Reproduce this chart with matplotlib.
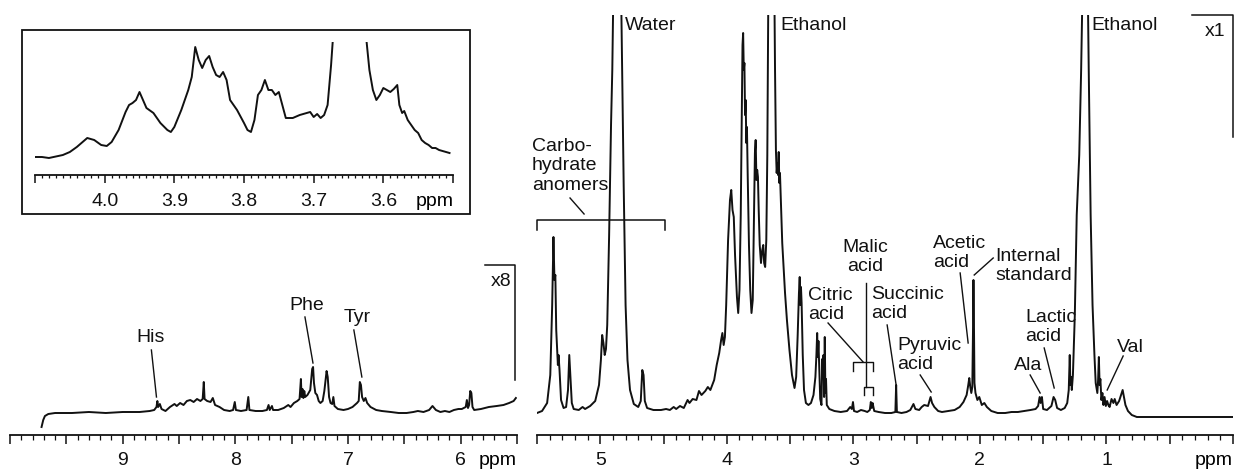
import matplotlib
matplotlib.use("Agg")
import matplotlib.pyplot as plt
from matplotlib.patches import Rectangle
from matplotlib.ticker import MultipleLocator, FuncFormatter

plt.rcParams['font.family'] = ['Liberation Sans', 'DejaVu Sans']
plt.rcParams['font.size'] = 14

INK = '#111111'

# (ppm, intensity); intensity ~ pixels above baseline
left_trace = [
    (9.72, -12), (9.705, -5), (9.69, -1), (9.66, 1), (9.60, 2), (9.45, 2), (9.30, 3),
    (9.15, 2), (9.00, 3), (8.85, 3), (8.76, 4), (8.72, 5), (8.70, 8), (8.692, 14),
    (8.685, 8), (8.67, 11), (8.655, 6), (8.62, 4), (8.58, 8), (8.54, 11), (8.52, 9),
    (8.49, 12), (8.46, 10), (8.43, 14), (8.40, 15), (8.37, 13), (8.34, 16), (8.31, 14),
    (8.29, 16), (8.28, 33), (8.273, 16), (8.25, 14), (8.22, 13), (8.20, 17), (8.18, 10),
    (8.14, 8), (8.10, 5), (8.05, 4), (8.02, 5), (8.005, 13), (7.995, 5), (7.95, 4),
    (7.90, 5), (7.885, 18), (7.875, 5), (7.82, 4), (7.76, 4), (7.72, 5), (7.705, 10),
    (7.695, 5), (7.675, 9), (7.665, 5), (7.62, 5), (7.57, 7), (7.53, 10), (7.51, 8),
    (7.48, 12), (7.45, 14), (7.43, 16), (7.418, 36), (7.412, 18), (7.404, 26),
    (7.396, 17), (7.388, 24), (7.38, 18), (7.36, 20), (7.335, 25), (7.318, 46),
    (7.31, 48), (7.302, 32), (7.29, 22), (7.275, 20), (7.26, 14), (7.245, 12),
    (7.225, 14), (7.21, 24), (7.19, 44), (7.18, 38), (7.168, 18), (7.155, 12),
    (7.14, 11), (7.13, 18), (7.12, 9), (7.09, 6), (7.04, 5), (7.00, 6), (6.96, 8),
    (6.92, 12), (6.905, 14), (6.895, 33), (6.885, 30), (6.875, 18), (6.86, 14),
    (6.845, 17), (6.83, 12), (6.80, 8), (6.75, 5), (6.70, 4), (6.62, 3), (6.55, 2),
    (6.48, 2), (6.42, 3), (6.38, 4), (6.33, 3), (6.28, 5), (6.25, 9), (6.22, 5),
    (6.18, 3), (6.14, 4), (6.10, 3), (6.06, 5), (6.02, 6), (5.99, 6), (5.955, 8),
    (5.945, 15), (5.935, 7), (5.925, 10), (5.915, 24), (5.905, 22), (5.895, 8),
    (5.88, 5), (5.82, 6), (5.75, 8), (5.68, 9), (5.62, 10), (5.57, 12), (5.53, 14),
    (5.51, 17),
]

right_trace = [
    (5.50, 2), (5.46, 4), (5.42, 12), (5.395, 40), (5.38, 110), (5.37, 178),
    (5.362, 135), (5.355, 140), (5.348, 85), (5.34, 62), (5.335, 50), (5.33, 60),
    (5.322, 45), (5.31, 15), (5.29, 7), (5.27, 8), (5.255, 25), (5.245, 60),
    (5.237, 40), (5.225, 12), (5.21, 6), (5.17, 5), (5.14, 8), (5.12, 6), (5.08, 9),
    (5.04, 14), (5.01, 30), (4.995, 55), (4.985, 80), (4.975, 72), (4.965, 60),
    (4.955, 66), (4.945, 90), (4.93, 180), (4.915, 290), (4.905, 345), (4.897, 420),
    (4.865, 2000), (4.835, 420), (4.827, 345), (4.815, 230), (4.80, 110), (4.785, 55),
    (4.765, 25), (4.735, 11), (4.70, 8), (4.68, 14), (4.668, 45), (4.658, 40),
    (4.648, 14), (4.63, 7), (4.58, 5), (4.52, 5), (4.48, 6), (4.45, 5), (4.42, 8),
    (4.40, 6), (4.37, 9), (4.34, 7), (4.31, 15), (4.295, 12), (4.27, 16), (4.24, 15),
    (4.22, 24), (4.20, 20), (4.17, 24), (4.15, 28), (4.13, 25), (4.10, 35), (4.08, 50),
    (4.06, 62), (4.045, 75), (4.035, 82), (4.025, 70), (4.015, 78), (4.005, 110),
    (3.99, 175), (3.975, 215), (3.965, 225), (3.955, 205), (3.945, 198), (3.935, 160),
    (3.92, 118), (3.91, 102), (3.90, 125), (3.89, 200), (3.882, 300), (3.876, 370),
    (3.871, 382), (3.866, 345), (3.861, 352), (3.856, 300), (3.851, 315),
    (3.846, 272), (3.841, 288), (3.835, 240), (3.825, 170), (3.815, 125),
    (3.805, 102), (3.795, 115), (3.785, 200), (3.778, 262), (3.772, 275),
    (3.766, 235), (3.76, 245), (3.754, 238), (3.748, 205), (3.74, 170), (3.73, 152),
    (3.72, 165), (3.712, 170), (3.705, 152), (3.697, 148), (3.688, 175), (3.68, 260),
    (3.672, 420), (3.655, 2000), (3.635, 2000), (3.624, 420), (3.619, 345),
    (3.612, 265), (3.606, 242), (3.60, 252), (3.595, 240), (3.59, 263), (3.585, 232),
    (3.58, 242), (3.572, 212), (3.562, 172), (3.552, 150), (3.54, 122), (3.525, 95),
    (3.505, 65), (3.485, 40), (3.465, 27), (3.452, 38), (3.44, 80), (3.43, 122),
    (3.424, 138), (3.419, 110), (3.414, 128), (3.409, 112), (3.40, 60), (3.39, 25),
    (3.375, 12), (3.355, 10), (3.335, 12), (3.315, 20), (3.30, 38), (3.292, 60),
    (3.286, 82), (3.281, 58), (3.276, 74), (3.27, 48), (3.262, 16), (3.252, 10),
    (3.246, 56), (3.241, 38), (3.236, 60), (3.231, 18), (3.226, 78), (3.221, 22),
    (3.216, 36), (3.21, 10), (3.19, 6), (3.15, 4), (3.10, 3), (3.05, 4), (3.025, 8),
    (3.012, 6), (3.003, 13), (2.995, 4), (2.97, 3), (2.94, 5), (2.91, 4), (2.89, 3),
    (2.87, 5), (2.862, 13), (2.855, 7), (2.848, 12), (2.835, 4), (2.80, 3), (2.75, 2),
    (2.70, 2), (2.668, 3), (2.662, 30), (2.656, 3), (2.62, 2), (2.58, 3), (2.55, 5),
    (2.525, 11), (2.51, 6), (2.48, 5), (2.46, 8), (2.44, 10), (2.41, 9), (2.39, 18),
    (2.378, 12), (2.36, 8), (2.33, 4), (2.30, 3), (2.25, 4), (2.20, 5), (2.16, 8),
    (2.13, 13), (2.105, 20), (2.092, 30), (2.084, 37), (2.076, 28), (2.068, 22),
    (2.06, 28), (2.055, 80), (2.051, 135), (2.047, 90), (2.043, 32), (2.035, 22),
    (2.02, 15), (2.005, 18), (1.985, 10), (1.965, 12), (1.945, 8), (1.91, 4),
    (1.86, 2), (1.80, 2), (1.75, 3), (1.70, 3), (1.65, 4), (1.60, 5), (1.56, 6),
    (1.54, 9), (1.528, 18), (1.52, 12), (1.51, 18), (1.50, 6), (1.47, 5), (1.435, 9),
    (1.418, 18), (1.405, 15), (1.39, 7), (1.36, 5), (1.33, 7), (1.31, 12), (1.298, 25),
    (1.29, 60), (1.285, 30), (1.28, 38), (1.274, 25), (1.265, 40), (1.25, 100),
    (1.235, 200), (1.215, 260), (1.20, 345), (1.19, 420), (1.168, 2000), (1.147, 420),
    (1.14, 345), (1.125, 200), (1.11, 110), (1.095, 60), (1.085, 32), (1.072, 22),
    (1.066, 35), (1.06, 58), (1.054, 30), (1.048, 36), (1.04, 15), (1.032, 22),
    (1.024, 10), (1.015, 18), (1.005, 9), (0.995, 14), (0.985, 10), (0.975, 8),
    (0.96, 16), (0.945, 12), (0.935, 16), (0.92, 10), (0.90, 14), (0.885, 20),
    (0.872, 25), (0.862, 18), (0.85, 10), (0.83, 4), (0.80, 0), (0.76, -2), (0.00, -2),
]

inset_trace = [
    (4.10, 18), (4.09, 18), (4.08, 17), (4.06, 20), (4.05, 23), (4.04, 28), (4.03, 34),
    (4.025, 37), (4.015, 35), (4.005, 30), (3.997, 29), (3.99, 33), (3.98, 45),
    (3.97, 63), (3.965, 70), (3.96, 72), (3.955, 75), (3.95, 83), (3.945, 75),
    (3.94, 67), (3.93, 62), (3.92, 52), (3.91, 45), (3.905, 43), (3.90, 48),
    (3.89, 65), (3.88, 85), (3.875, 98), (3.87, 128), (3.865, 115), (3.86, 107),
    (3.855, 115), (3.85, 119), (3.845, 108), (3.84, 100), (3.835, 98), (3.83, 103),
    (3.825, 95), (3.82, 75), (3.81, 65), (3.80, 52), (3.795, 45), (3.79, 43),
    (3.785, 55), (3.78, 80), (3.775, 85), (3.77, 95), (3.765, 85), (3.76, 85),
    (3.755, 80), (3.75, 83), (3.745, 70), (3.74, 57), (3.73, 57), (3.72, 60),
    (3.71, 62), (3.705, 63), (3.70, 58), (3.695, 61), (3.69, 57), (3.685, 60),
    (3.68, 70), (3.675, 110), (3.672, 140), (3.66, 400), (3.64, 400), (3.625, 140),
    (3.62, 105), (3.615, 85), (3.61, 75), (3.605, 80), (3.60, 87), (3.595, 85),
    (3.59, 83), (3.585, 86), (3.58, 90), (3.577, 70), (3.573, 62), (3.57, 64),
    (3.565, 55), (3.56, 50), (3.555, 45), (3.55, 42), (3.545, 35), (3.54, 32),
    (3.535, 30), (3.53, 27), (3.525, 27), (3.52, 25), (3.51, 23), (3.505, 22),
]

# label text, anchor (ppm, intensity), leader line endpoints
left_labels = [
    ("His", (8.755, 77), [(8.745, 65), (8.70, 18)]),
    ("Phe", (7.367, 110), [(7.382, 98), (7.311, 52)]),
    ("Tyr", (6.918, 98), [(6.948, 85), (6.877, 38)]),
]

right_labels = [
    ("Citric\nacid", (3.358, 110), [(3.20, 92), (2.923, 53)]),
    ("Malic\nacid", (2.907, 158), [(2.899, 132), (2.899, 28)]),
    ("Succinic\nacid", (2.86, 111), [(2.733, 90), (2.662, 30)]),
    ("Pyruvic\nacid", (2.654, 60), [(2.472, 40), (2.385, 23)]),
    ("Acetic\nacid", (2.37, 162), [(2.156, 142), (2.093, 72)]),
    ("Internal\nstandard", (1.879, 149), [(1.895, 157), (2.045, 140)]),
    ("Lactic\nacid", (1.642, 88), [(1.492, 67), (1.413, 27)]),
    ("Ala", (1.73, 49), [(1.603, 40), (1.524, 22)]),
    ("Val", (0.915, 68), [(0.868, 59), (0.994, 25)]),
]


def px_axes(fig, x0, x1, ytop, ybot):
    W, H = 1236, 470
    return fig.add_axes([x0 / W, (H - ybot) / H, (x1 - x0) / W, (ybot - ytop) / H])


def style_axis(ax, major, minor, fmt):
    for s in ('top', 'left', 'right'):
        ax.spines[s].set_visible(False)
    ax.spines['bottom'].set_linewidth(1.3)
    ax.spines['bottom'].set_color(INK)
    ax.set_yticks([])
    ax.xaxis.set_major_locator(MultipleLocator(major))
    ax.xaxis.set_minor_locator(MultipleLocator(minor))
    ax.xaxis.set_major_formatter(FuncFormatter(fmt))
    ax.tick_params(axis='x', which='major', direction='out', length=6.5, width=1.1,
                   pad=6, colors=INK, labelsize=14)
    ax.tick_params(axis='x', which='minor', direction='out', length=3.5, width=0.9,
                   colors=INK)
    ax.patch.set_visible(False)


def int_label(v, pos):
    r = round(v)
    if abs(v - r) < 1e-6 and 1 <= r <= 9:
        return str(int(r))
    return ''


def inset_label(v, pos):
    if 3.55 < v < 4.05:
        return f'{v:.1f}'
    return ''


fig = plt.figure(figsize=(12.36, 4.70), dpi=100)

# left spectrum (x8)
axl = px_axes(fig, 10, 517, 15, 435)
axl.set_xlim(10, 5.5)
axl.set_ylim(-20, 400)
style_axis(axl, 0.5, 0.1, int_label)
axl.plot([p for p, _ in left_trace], [v for _, v in left_trace], color=INK, lw=1.4)
axl.annotate('ppm', xy=(5.67, 0), xycoords=axl.get_xaxis_transform(),
             xytext=(0, -12.5), textcoords='offset points', ha='center', va='top')
for txt, (x, y), line in left_labels:
    axl.text(x, y, txt, ha='center', va='center', color=INK)
    axl.plot([line[0][0], line[1][0]], [line[0][1], line[1][1]], color=INK, lw=1.0,
             clip_on=False)
axl.plot([5.78, 5.52, 5.52], [150, 150, 35], color=INK, lw=1.1, clip_on=False)
axl.text(5.64, 133, 'x8', ha='center', va='center', color=INK)

# right spectrum (x1)
axr = px_axes(fig, 537, 1233, 15, 435)
axr.set_xlim(5.5, 0)
axr.set_ylim(-20, 400)
style_axis(axr, 0.5, 0.1, int_label)
axr.plot([p for p, _ in right_trace], [v for _, v in right_trace], color=INK, lw=1.4)
axr.annotate('ppm', xy=(0.15, 0), xycoords=axr.get_xaxis_transform(),
             xytext=(0, -12.5), textcoords='offset points', ha='center', va='top')
for txt, (x, y), line in right_labels:
    ha = 'center' if txt.startswith('Malic') else 'left'
    axr.text(x, y, txt, ha=ha, va='center', color=INK, linespacing=1.22)
    axr.plot([line[0][0], line[1][0]], [line[0][1], line[1][1]], color=INK, lw=1.0,
             clip_on=False)

# brackets for citric / malic and carbohydrate region
axr.plot([3.0, 3.0, 2.844, 2.844], [44, 53, 53, 44], color=INK, lw=1.0)
axr.plot([2.915, 2.915, 2.844, 2.844], [20, 28, 28, 20], color=INK, lw=1.0)
axr.plot([5.5, 5.5, 4.488, 4.488], [185, 195, 195, 185], color=INK, lw=1.1, clip_on=False)
axr.plot([5.239, 5.128], [217, 201], color=INK, lw=1.0)
axr.text(5.54, 249, 'Carbo-\nhydrate\nanomers', ha='left', va='center', color=INK,
         linespacing=1.22)

axr.text(4.804, 390, 'Water', ha='left', va='center', color=INK)
axr.text(3.579, 390, 'Ethanol', ha='left', va='center', color=INK)
axr.text(1.116, 390, 'Ethanol', ha='left', va='center', color=INK)

axr.plot([0.322, 0.0, 0.0], [400, 400, 278], color=INK, lw=1.1, clip_on=False)
axr.text(0.14, 383, 'x1', ha='center', va='center', color=INK)

# inset: zoom on 4.1-3.5 ppm
fig.add_artist(Rectangle((22 / 1236, (470 - 214) / 470), 448 / 1236, 184 / 470,
                         transform=fig.transFigure, fill=False, lw=1.3, ec=INK))
axi = px_axes(fig, 35, 453, 42, 175)
axi.set_xlim(4.1, 3.5)
axi.set_ylim(0, 133)
style_axis(axi, 0.1, 0.01, inset_label)
axi.tick_params(axis='x', which='major', length=6, pad=7)
axi.tick_params(axis='x', which='minor', length=2.5)
axi.plot([p for p, _ in inset_trace], [v for _, v in inset_trace], color=INK, lw=1.4)
axi.annotate('ppm', xy=(3.526, 0), xycoords=axi.get_xaxis_transform(),
             xytext=(0, -13), textcoords='offset points', ha='center', va='top')

fig.savefig('out.png', dpi=100)
